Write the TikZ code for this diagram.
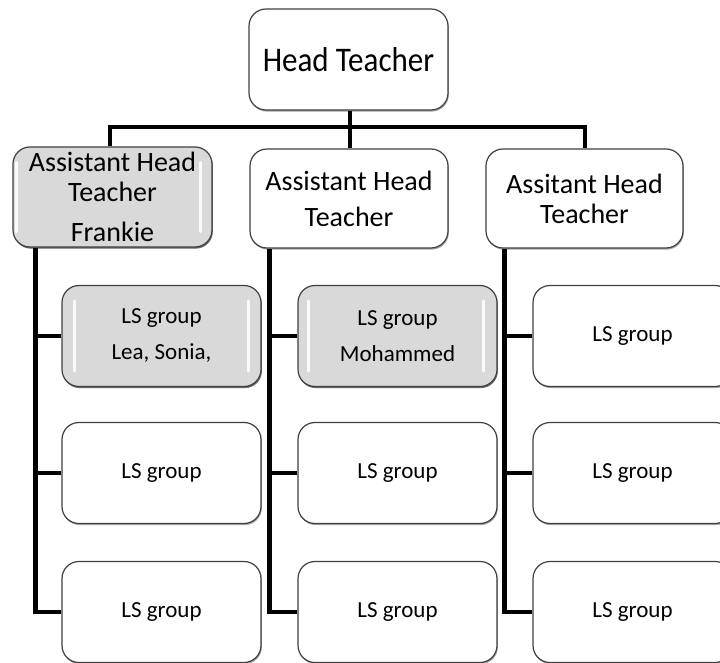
\documentclass[tikz,border=0pt]{standalone}
\usepackage{fontspec}
\setmainfont{Carlito}
\newfontfamily\headfont[FakeStretch=0.9]{Carlito}
\usetikzlibrary{shadows,backgrounds}

\tikzset{
  box/.style={draw=black!75, line width=1.2pt, rounded corners=17pt, fill=white,
    inner sep=0pt, align=center,
    drop shadow={shadow xshift=0.8pt, shadow yshift=-1.6pt, opacity=0.35, fill=black}},
  shadedbox/.style={box, fill=black!15},
  headbox/.style={box, minimum width=199pt, minimum height=101pt,
    font=\headfont\fontsize{34.5}{40}\selectfont},
  ahtbox/.style={box, minimum width=198pt, minimum height=99pt,
    font=\fontsize{28}{30}\selectfont},
  lsbox/.style={box, minimum width=199pt, minimum height=101pt,
    font=\fontsize{23}{28}\selectfont},
  conn/.style={line width=4.5pt, black},
  gleam/.style={white, line width=3pt, line cap=round, opacity=0.9},
}

\begin{document}
\begin{tikzpicture}[x=1pt, y=-1pt]
  \useasboundingbox (0,0) rectangle (720,663);
  \clip (0,0) rectangle (720,663);

  % top level
  \node[headbox] (head) at (348.5,59.5) {Head Teacher};

  % assistant heads
  \node[ahtbox, shadedbox, minimum width=199pt, minimum height=100pt] (a1) at (112.5,197)
    {Assistant Head\\Teacher\\[10pt]Frankie};
  \node[ahtbox] (a2) at (349,198.5) {Assistant Head\\[6pt]Teacher};
  \node[ahtbox, minimum width=197pt] (a3) at (584.5,198.5) {Assitant Head\\Teacher};

  % LS groups, one column per assistant head
  \node[lsbox, shadedbox] (l11) at (161.5,336) {LS group\\[8pt]Lea, Sonia,};
  \node[lsbox] (l12) at (161.5,473) {LS group};
  \node[lsbox] (l13) at (161.5,612) {LS group};

  \node[lsbox, shadedbox] (l21) at (397.5,336) {LS group\\[8pt]Mohammed};
  \node[lsbox] (l22) at (397.5,473) {LS group};
  \node[lsbox] (l23) at (397.5,612) {LS group};

  \node[lsbox] (l31) at (632.5,336) {LS group};
  \node[lsbox] (l32) at (632.5,473) {LS group};
  \node[lsbox] (l33) at (632.5,612) {LS group};

  % highlights on the shaded boxes
  \foreach \b/\inl/\inr in {a1/4/12, l11/13/13, l21/11/14} {
    \draw[gleam] ([xshift=\inl pt, yshift=-16pt]\b.north west) -- ([xshift=\inl pt, yshift=16pt]\b.south west);
    \draw[gleam] ([xshift=-\inr pt, yshift=-16pt]\b.north east) -- ([xshift=-\inr pt, yshift=16pt]\b.south east);
  }

  \begin{scope}[on background layer]
    % head to assistant heads
    \coordinate (bar) at (350,127);
    \coordinate (d1) at (110,127);
    \coordinate (d3) at (585,127);
    \draw[conn] (bar |- head.south) -- (bar);
    \draw[conn] (d1 |- a1.north) -- (d1) -- (d3) -- (d3 |- a3.north);
    \draw[conn] (bar) -- (bar |- a2.north);

    % spines down to the LS groups
    \coordinate (s1) at ([xshift=23pt]a1.south west);
    \coordinate (s2) at ([xshift=20pt]a2.south west);
    \coordinate (s3) at ([xshift=19pt]a3.south west);
    \foreach \s/\c in {s1/1, s2/2, s3/3} {
      \draw[conn] (\s) |- (l\c3.west);
      \draw[conn] (\s |- l\c1.west) -- (l\c1.west);
      \draw[conn] (\s |- l\c2.west) -- (l\c2.west);
    }
  \end{scope}
\end{tikzpicture}
\end{document}
